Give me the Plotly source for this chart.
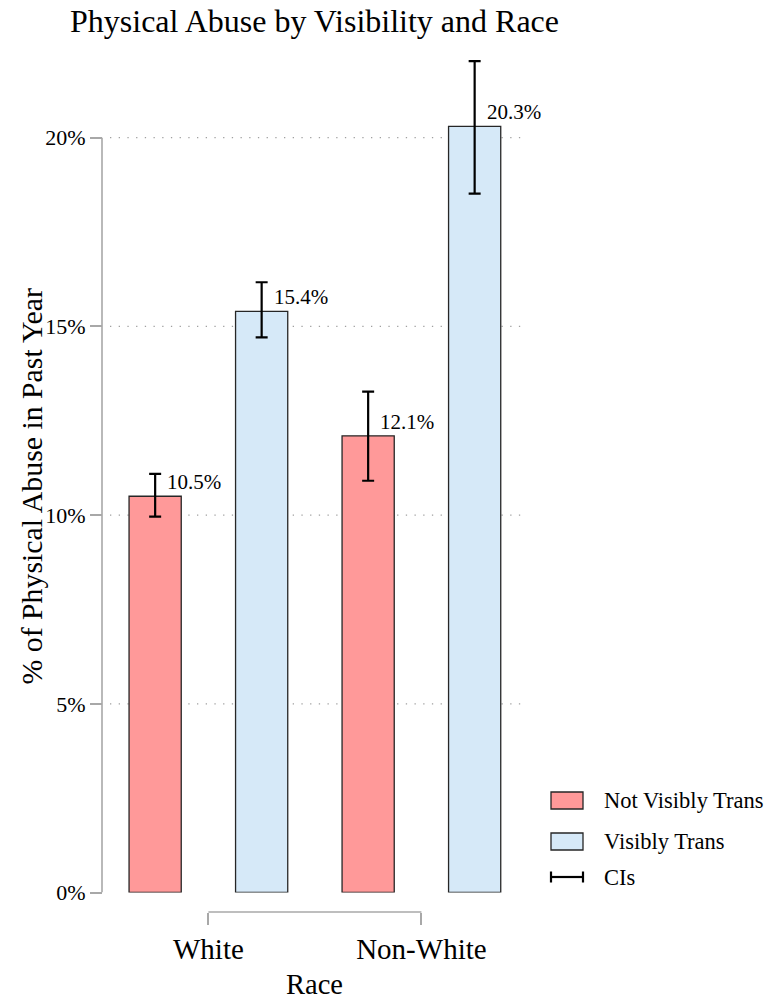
import plotly.graph_objects as go

# Share of respondents reporting physical abuse in the past year (%)
races = ["White", "Non-White"]
not_visible = [10.5, 12.1]
not_visible_lo = [9.96, 10.91]
not_visible_hi = [11.09, 13.27]
visible = [15.4, 20.3]
visible_lo = [14.71, 18.52]
visible_hi = [16.17, 22.03]

series_names = ["Not Visibly Trans", "Visibly Trans", "CIs"]
y_ticks = [0, 5, 10, 15, 20]
y_tick_text = ["0%", "5%", "10%", "15%", "20%"]

FONT = "Liberation Serif"
RED_FILL = "#FF9999"
BLUE_FILL = "#D6E9F8"
OUTLINE = "#262626"
AXIS_GREY = "#a8a8a8"

W, H = 777, 1003
L, R, T, B = 102, 250, 50, 91
PW, PH = W - L - R, H - T - B


def px_x(px):
    return (px - L) / PW


def px_y(py):
    return (H - B - py) / PH


def err(vals, lo, hi):
    return dict(
        type="data", symmetric=False,
        array=[h - v for v, h in zip(vals, hi)],
        arrayminus=[v - l for v, l in zip(vals, lo)],
        color="black", thickness=2.2, width=6,
    )


fig = go.Figure()
fig.add_trace(go.Bar(
    x=races, y=not_visible, name=series_names[0],
    marker=dict(color=RED_FILL, line=dict(color=OUTLINE, width=1.3)),
    error_y=err(not_visible, not_visible_lo, not_visible_hi),
    showlegend=False,
))
fig.add_trace(go.Bar(
    x=races, y=visible, name=series_names[1],
    marker=dict(color=BLUE_FILL, line=dict(color=OUTLINE, width=1.3)),
    error_y=err(visible, visible_lo, visible_hi),
    showlegend=False,
))

annotations = []
# value labels to the upper right of each bar
for offset, vals in ((-0.25, not_visible), (0.25, visible)):
    for i, v in enumerate(vals):
        annotations.append(dict(
            x=i + offset, y=v, xref="x", yref="y",
            text=f"{v:.1f}%", showarrow=False,
            xanchor="left", yanchor="bottom", xshift=10,
            font=dict(family=FONT, size=21, color="black"),
        ))

# axis titles
annotations.append(dict(
    x=0.5, xref="x", y=px_y(985), yref="paper", text="Race",
    showarrow=False, xanchor="center", yanchor="middle",
    font=dict(family=FONT, size=28.5, color="black"),
))
annotations.append(dict(
    x=px_x(31), xref="paper", y=px_y(486.5), yref="paper",
    text="% of Physical Abuse in Past Year", textangle=-90,
    showarrow=False, xanchor="center", yanchor="middle",
    font=dict(family=FONT, size=29.8, color="black"),
))

shapes = []
# dotted horizontal guides
for t in y_ticks[1:]:
    shapes.append(dict(
        type="line", xref="x domain", yref="y", x0=0, x1=1, y0=t, y1=t,
        line=dict(color="#a0a0a0", width=1.2, dash="1.3px,7.4px"), layer="below",
    ))
# range-frame axis lines
shapes.append(dict(
    type="line", xref="paper", yref="y", x0=0, x1=0, y0=y_ticks[0], y1=y_ticks[-1],
    line=dict(color=AXIS_GREY, width=1.6),
))
shapes.append(dict(
    type="line", xref="x", yref="paper", x0=0, x1=len(races) - 1, y0=0, y1=0,
    line=dict(color=AXIS_GREY, width=1.6),
))

# legend keys
key_x0, key_x1 = px_x(551), px_x(583)
legend_rows = [800.5, 841.5, 877]
for fill, cy in ((RED_FILL, legend_rows[0]), (BLUE_FILL, legend_rows[1])):
    shapes.append(dict(
        type="rect", xref="paper", yref="paper",
        x0=key_x0, x1=key_x1, y0=px_y(cy + 8.5), y1=px_y(cy - 8.5),
        fillcolor=fill, line=dict(color=OUTLINE, width=1.3),
    ))
cy = legend_rows[2]
shapes.append(dict(type="line", xref="paper", yref="paper", x0=key_x0, x1=key_x1,
                   y0=px_y(cy), y1=px_y(cy), line=dict(color="black", width=2.2)))
for kx in (key_x0, key_x1):
    shapes.append(dict(type="line", xref="paper", yref="paper", x0=kx, x1=kx,
                       y0=px_y(cy - 5.5), y1=px_y(cy + 5.5),
                       line=dict(color="black", width=2.2)))
for name, cy in zip(series_names, legend_rows):
    annotations.append(dict(
        x=px_x(602), xref="paper", y=px_y(cy), yref="paper", text=name,
        showarrow=False, xanchor="left", yanchor="middle",
        font=dict(family=FONT, size=22.5, color="black"),
    ))

fig.update_layout(
    width=W, height=H,
    margin=dict(l=L, r=R, t=T, b=B, autoexpand=False),
    paper_bgcolor="white", plot_bgcolor="white",
    barmode="group", bargap=0.0, bargroupgap=0.51,
    title=dict(
        text="Physical Abuse by Visibility and Race",
        x=70 / W, xref="container", xanchor="left",
        y=1 - 21 / H, yref="container", yanchor="middle",
        font=dict(family=FONT, size=32, color="black"),
    ),
    xaxis=dict(
        type="category", domain=[px_x(110), 1],
        range=[(110 - 208.4) / 213, (527 - 208.4) / 213],
        anchor="free", position=0,
        showline=False, showgrid=False, zeroline=False,
        ticks="outside", ticklen=11.5, tickwidth=1.6, tickcolor=AXIS_GREY,
        tickfont=dict(family=FONT, size=29, color="black"),
        automargin=False,
    ),
    yaxis=dict(
        domain=[px_y(892.5), 1],
        range=[0, (892.5 - T) / 37.74],
        anchor="free", position=0,
        showline=False, showgrid=False, zeroline=False,
        tickvals=y_ticks, ticktext=y_tick_text,
        ticks="outside", ticklen=12, tickwidth=1.6, tickcolor=AXIS_GREY,
        tickfont=dict(family=FONT, size=22, color="black"),
        automargin=False,
    ),
    shapes=shapes,
    annotations=annotations,
)

fig.write_html("out.html")
